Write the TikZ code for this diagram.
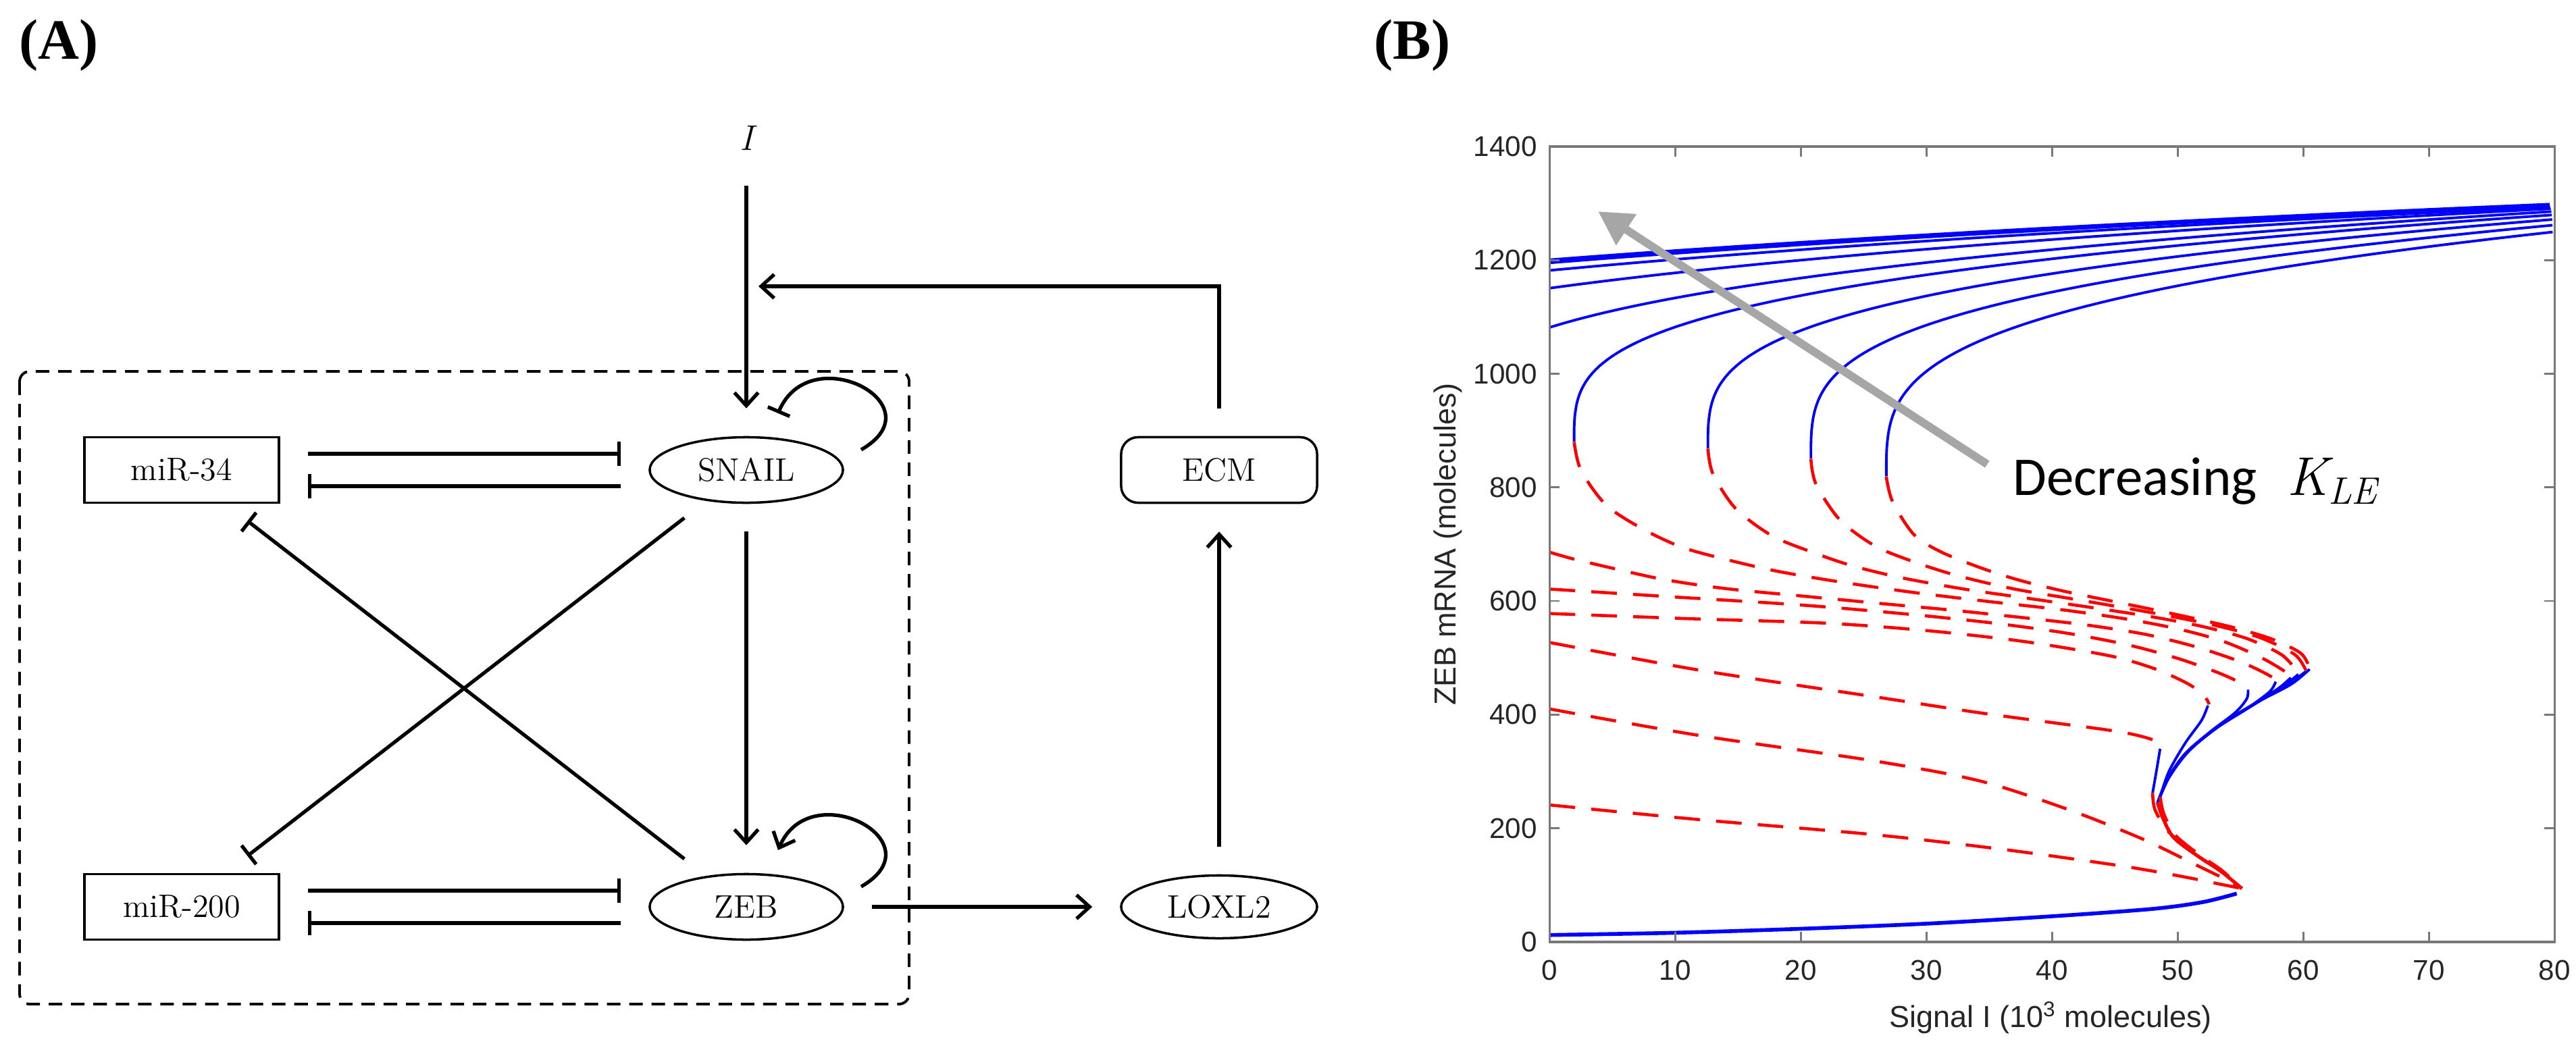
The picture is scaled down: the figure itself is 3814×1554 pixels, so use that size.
\documentclass[tikz,border=0pt]{standalone}
\usepackage{fontspec}
\usepackage{tikz}
\usetikzlibrary{shapes,arrows.meta,positioning,calc}

\newfontfamily\plotfont{Liberation Sans}
\newfontfamily\panelfont{Liberation Serif}
\newfontfamily\notefont{Carlito}

\definecolor{arrowgray}{RGB}{166,166,166}
\definecolor{boxgray}{RGB}{120,120,120}
\definecolor{textgray}{RGB}{38,38,38}

\tikzset{
  gene/.style={draw, rectangle, line width=1pt, minimum width=2.88cm, minimum height=0.97cm, inner sep=0pt, font=\fontsize{13.7}{16}\selectfont},
  tf/.style={draw, ellipse, line width=1pt, minimum width=2.86cm, minimum height=0.97cm, inner sep=0pt, font=\fontsize{13.7}{16}\selectfont},
  link/.style={line width=1.5pt, shorten <=0.41cm, shorten >=0.41cm},
  act/.style={link, -{Straight Barb[length=5.5pt,width=10pt]}},
  inh/.style={link, -{Bar[width=10pt]}},
  selfloop/.style={line width=1.5pt},
  stab/.style={blue, line width=1.1pt},
  unstab/.style={red, line width=1.3pt, dash pattern=on 10.8pt off 6.8pt},
  axtick/.style={boxgray, line width=0.8pt},
  ticklab/.style={inner sep=0pt, text=textgray, font=\plotfont\fontsize{12}{14}\selectfont},
  axlab/.style={inner sep=0pt, text=textgray, font=\plotfont\fontsize{12.8}{15}\selectfont},
  panel/.style={inner sep=0pt, font=\panelfont\bfseries\fontsize{24}{28}\selectfont}
}

\begin{document}
\begin{tikzpicture}[x=0.01cm, y=-0.01cm]
\useasboundingbox (0,0) rectangle (3814,1554);

% (A) circuit
\node (labA) [panel, anchor=base] at (87,87) {(A)};
\node (sig) [font=\fontsize{15}{18}\selectfont\itshape] at (1105,204) {I};
\node (mir34) [gene] at (269,696) {miR-34};
\node (snail) [tf] at (1105,696) {SNAIL};
\node (mir200) [gene] at (269,1343) {miR-200};
\node (zeb) [tf] at (1105,1343) {ZEB};
\node (ecm) [gene, minimum width=2.9cm, rounded corners=0.25cm] at (1805,696) {ECM};
\node (loxl2) [tf, minimum width=2.9cm, minimum height=0.93cm] at (1805,1343) {LOXL2};
\coordinate (fb) at (1105,424);

\draw[line width=1.1pt, dash pattern=on 5.7pt off 3.7pt, rounded corners=0.15cm] (29,550) rectangle (1346,1487);

\draw[act] (sig) -- (snail);
\draw[act, shorten >=0.18cm] (ecm) |- (fb);
\draw[inh] ([yshift=0.24cm]mir34.east) -- ([yshift=0.24cm]snail.west);
\draw[inh] ([yshift=-0.24cm]snail.west) -- ([yshift=-0.24cm]mir34.east);
\draw[inh] ([yshift=0.24cm]mir200.east) -- ([yshift=0.24cm]zeb.west);
\draw[inh] ([yshift=-0.24cm]zeb.west) -- ([yshift=-0.24cm]mir200.east);
\draw[inh] (snail) -- (mir200);
\draw[inh] (zeb) -- (mir34);
\draw[act] (snail) -- (zeb);
\draw[act] (zeb) -- (loxl2);
\draw[act] (loxl2) -- (ecm);
\draw[selfloop, -{Bar[width=10pt]}] ([shift={(170,-30)}]snail.center) .. controls ([shift={(285,-96)}]snail.center) and ([shift={(95,-196)}]snail.center) .. ([shift={(47,-84)}]snail.center);
\draw[selfloop, -{Straight Barb[length=5.5pt,width=10pt]}] ([shift={(170,-30)}]zeb.center) .. controls ([shift={(285,-96)}]zeb.center) and ([shift={(95,-196)}]zeb.center) .. ([shift={(47,-84)}]zeb.center);

% (B) bifurcation diagram
\node (labB) [panel, anchor=base] at (2091,87) {(B)};
\begin{scope}[shift={(22.93cm,-13.94cm)}, x=0.185875cm, y=0.0084cm]
  \begin{scope}
    \clip (0,0) rectangle (80,1400);
    % upper stable branches
    \foreach \ia/\va/\vb in {26.8/819/1250, 20.8/850/1262, 12.6/868/1272, 1.95/880/1280, -9/875/1286, -28/870/1291, -45/870/1294, -55/870/1296, -56/870/1298, -58/870/1299}
      \draw[stab] plot[domain=0.001:1, samples=70, variable=\t] ({\ia+(80-(\ia))*pow(\t,3.333)}, {\va+(\vb-\va)*\t});
    % middle unstable branches
    \draw[unstab] plot[smooth] coordinates {(26.8,819) (27.3,775) (29,717) (31.2,686) (34.5,657) (37.5,636) (41,617) (44.5,601) (47.8,586) (51.2,570) (54.5,553) (57.5,533) (59.8,508) (60.5,482)};
    \draw[unstab] plot[smooth] coordinates {(20.8,850) (21.2,806) (23.1,743) (25.9,697) (29,669) (32.4,645) (36.8,622) (41,606) (45,591) (49,575) (53,557) (56.5,536) (59.3,506) (60.2,478)};
    \draw[unstab] plot[smooth] coordinates {(12.6,868) (13,824) (14.8,763) (17.7,715) (20.9,686) (24.1,662) (28,641) (33,621) (38,605) (43,589) (48,572) (52,555) (55.5,534) (58.3,505) (59.6,473)};
    \draw[unstab] plot[smooth] coordinates {(1.95,880) (2.5,830) (4.5,769) (7.4,727) (10.5,695) (13.9,674) (18,653) (23,634) (29,615) (35,599) (41,584) (46,568) (50,551) (53.5,530) (56.5,502) (58.4,478) (59,467)};
    \draw[unstab] plot[smooth] coordinates {(0,686) (1.9,674) (5.35,656) (8.6,640) (11.9,628) (15.2,619) (20,609) (25.7,597) (32,584) (38,570) (43,557) (47.5,541) (51.5,519) (55,493) (57.2,470) (57.8,460)};
    \draw[unstab] plot[smooth] coordinates {(0,621) (10,607) (20,593) (28,578) (35,562) (41,544) (46,523) (50,499) (53.2,474) (55.1,455) (55.6,446)};
    \draw[unstab] plot[smooth] coordinates {(0,578) (11,569) (22,561) (30,548) (37,531) (42,514) (45.5,499) (48.5,478) (51,452) (52.2,430) (52.5,418)};
    \draw[unstab] plot[smooth] coordinates {(0,527) (12,478) (25.7,432) (34,404) (40,386) (44.1,374) (46.5,365) (48.2,354) (48.6,342)};
    \draw[unstab] plot[smooth] coordinates {(0,410) (12,363) (25.7,319) (34.3,283) (41.4,232) (47.2,181) (51.5,135) (54,108) (55.1,94)};
    \draw[unstab] plot[smooth] coordinates {(0,241) (12,215) (25.7,189) (36,163) (44.5,137) (47.9,125) (51.3,111) (53.5,101) (55.1,94)};
    % intermediate stable branches
    \draw[stab] plot[smooth] coordinates {(48.4,245) (49.3,290) (50.9,338) (53.4,382) (56,418) (59,453) (60.5,480)};
    \draw[stab] plot[smooth] coordinates {(48.4,245) (49.3,289) (50.9,336) (53.3,380) (55.9,416) (58.7,452) (60.2,476)};
    \draw[stab] plot[smooth] coordinates {(48.4,245) (49.3,289) (50.8,335) (53.2,378) (55.8,414) (58.4,450) (59.6,471)};
    \draw[stab] plot[smooth] coordinates {(48.4,245) (49.2,288) (50.7,333) (53,376) (55.6,412) (58,446) (59,465)};
    \draw[stab] plot[smooth] coordinates {(48.4,245) (49.2,287) (50.6,331) (52.9,374) (55.4,409) (57.3,440) (57.8,458)};
    \draw[stab] plot[smooth] coordinates {(48.4,245) (49.2,286) (50.5,329) (52.6,370) (54.6,404) (55.5,428) (55.6,444)};
    \draw[stab] plot[smooth] coordinates {(48.6,255) (49.3,300) (50.6,350) (51.9,390) (52.4,416)};
    \draw[stab] plot[smooth] coordinates {(48.0,262) (48.3,300) (48.6,340)};
    % lower unstable branches
    \foreach \ph in {0,3,6,9,12,15}
      \draw[unstab, dash phase=\ph pt] plot[smooth] coordinates {(48.4,245) (48.8,219) (49.7,183) (51.8,148) (53.45,124) (55.1,94)};
    \draw[unstab] plot[smooth] coordinates {(48.6,255) (48.9,225) (49.8,188) (51.8,152) (53.5,126) (55.1,94)};
    \draw[unstab] plot[smooth] coordinates {(48.0,262) (48.2,232) (49.3,193) (51.5,153) (53.4,125) (55.1,94)};
    % lower stable branch
    \draw[stab, line width=1.6pt] plot[smooth] coordinates {(0,12) (10,16) (20,23) (30,32) (40,45) (48,58) (52,70) (54.7,85)};
  \end{scope}
  \draw[boxgray, line width=1pt] (0,0) rectangle (80,1400);
  \foreach \i in {0,10,...,80} {
    \draw[axtick] (\i,0) -- ++(0cm,0.15cm);
    \draw[axtick] (\i,1400) -- ++(0cm,-0.15cm);
    \node (xt\i) [ticklab, anchor=north] at ([yshift=-0.26cm]\i,0) {\i};
  }
  \foreach \v in {0,200,...,1400} {
    \draw[axtick] (0,\v) -- ++(0.15cm,0cm);
    \draw[axtick] (80,\v) -- ++(-0.15cm,0cm);
    \node (yt\v) [ticklab, anchor=east] at ([xshift=-0.18cm]0,\v) {\v};
  }
\end{scope}
\node (ylab) [axlab, rotate=90] at (2144,806) {ZEB mRNA (molecules)};
\node (xlab) [axlab] at (3036,1507) {Signal I (10\textsuperscript{3} molecules)};

\node (dec) [anchor=base west, inner sep=0pt, font=\notefont\fontsize{23}{27}\selectfont] at (2980,733) {Decreasing\hspace{0.55em}{\rmfamily\itshape K}\textsubscript{\rmfamily\itshape LE}};
\coordinate (kletip) at (2366,313);
\draw[arrowgray, line width=3.4pt, shorten <=0.45cm, -{Triangle[length=0.5cm,width=0.52cm]}] (dec.west) -- (kletip);
\end{tikzpicture}
\end{document}
